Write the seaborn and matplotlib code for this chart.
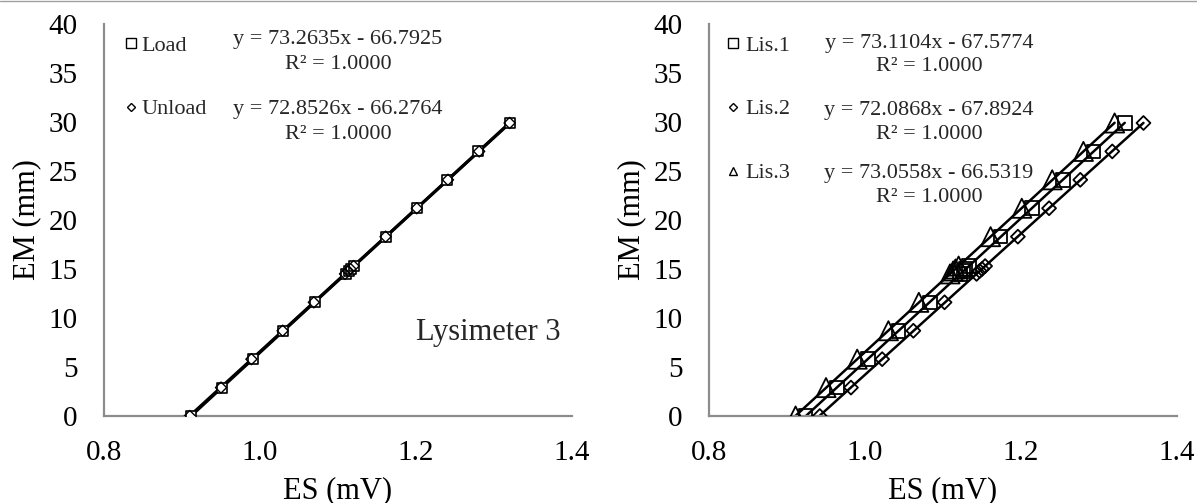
import numpy as np
import pandas as pd
import matplotlib
matplotlib.use("Agg")
import matplotlib.pyplot as plt
from matplotlib.lines import Line2D
import seaborn as sns

# ---------------- data ----------------
em_up = [0.0, 2.9, 5.8, 8.7, 11.6, 14.5, 14.8, 15.0, 15.3, 18.3, 21.2, 24.1, 27.0, 29.9]
em_down = [29.9, 27.0, 24.1, 21.2, 18.3, 15.3, 15.0, 14.8, 14.5, 11.6, 8.7, 5.8, 2.9, 0.0]

load_es = [0.911, 0.951, 0.991, 1.030, 1.070, 1.110, 1.114, 1.117, 1.120, 1.161, 1.201, 1.240, 1.280, 1.320]
unload_es = [1.320, 1.281, 1.241, 1.201, 1.161, 1.120, 1.116, 1.113, 1.109, 1.069, 1.029, 0.989, 0.950, 0.910]

lis1_es = [0.924, 0.964, 1.004, 1.043, 1.083, 1.122, 1.126, 1.129, 1.133, 1.174, 1.214, 1.254, 1.293, 1.333]
lis2_es = [0.942, 0.982, 1.022, 1.062, 1.102, 1.143, 1.147, 1.150, 1.154, 1.196, 1.236, 1.276, 1.317, 1.357]
lis3_es = [0.911, 0.950, 0.990, 1.030, 1.069, 1.109, 1.113, 1.116, 1.120, 1.161, 1.201, 1.240, 1.280, 1.320]

left_labels = ["Load", "Unload"]
left_eqs = ["y = 73.2635x - 66.7925\nR\u00b2 = 1.0000", "y = 72.8526x - 66.2764\nR\u00b2 = 1.0000"]
right_labels = ["Lis.1", "Lis.2", "Lis.3"]
right_eqs = ["y = 73.1104x - 67.5774\nR\u00b2 = 1.0000",
             "y = 72.0868x - 67.8924\nR\u00b2 = 1.0000",
             "y = 73.0558x - 66.5319\nR\u00b2 = 1.0000"]
x_ticks = [0.8, 1.0, 1.2, 1.4]
y_ticks = [0, 5, 10, 15, 20, 25, 30, 35, 40]
panel_note = "Lysimeter 3"

# ---------------- style ----------------
sns.set_theme(style="white")
plt.rcParams["font.family"] = ["Liberation Serif", "DejaVu Serif"]

SPINE = "#8c8c8c"
W, H = 1197, 503
fig = plt.figure(figsize=(W / 100, H / 100), dpi=100)
ax1 = fig.add_axes([104 / W, (H - 416) / H, 468 / W, 392 / H])
ax2 = fig.add_axes([709 / W, (H - 416) / H, 468 / W, 392 / H])

left_df = pd.DataFrame({
    "ES": load_es + unload_es,
    "EM": em_up + em_down,
    "series": [left_labels[0]] * len(load_es) + [left_labels[1]] * len(unload_es),
})
right_df = pd.DataFrame({
    "ES": lis1_es + lis2_es + lis3_es,
    "EM": em_up * 3,
    "series": [right_labels[0]] * 14 + [right_labels[1]] * 14 + [right_labels[2]] * 14,
})

# left panel
for lab in left_labels:
    sub = left_df[left_df["series"] == lab]
    sns.regplot(data=sub, x="ES", y="EM", ax=ax1, scatter=False, ci=None,
                truncate=True, line_kws=dict(color="black", lw=2.2))
sns.scatterplot(data=left_df[left_df.series == "Load"], x="ES", y="EM", ax=ax1,
                marker="s", s=60, facecolor="white", edgecolor="black", linewidth=1.2,
                zorder=3, legend=False)
sns.scatterplot(data=left_df[left_df.series == "Unload"], x="ES", y="EM", ax=ax1,
                marker="D", s=32, facecolor="none", edgecolor="black", linewidth=1.0,
                zorder=4, legend=False)

# right panel
mk = {"Lis.1": ("s", 95), "Lis.2": ("D", 50), "Lis.3": ("^", 190)}
for lab in right_labels:
    sub = right_df[right_df["series"] == lab]
    sns.regplot(data=sub, x="ES", y="EM", ax=ax2, scatter=False, ci=None,
                truncate=True, line_kws=dict(color="black", lw=1.8))
for lab in right_labels:
    sub = right_df[right_df["series"] == lab]
    m, s = mk[lab]
    sns.scatterplot(data=sub, x="ES", y="EM", ax=ax2, marker=m, s=s,
                    facecolor="none", edgecolor="black", linewidth=1.3,
                    zorder=3, legend=False)

for ax in (ax1, ax2):
    ax.set_xlim(0.8, 1.4)
    ax.set_ylim(0, 40)
    ax.set_xticks(x_ticks)
    ax.set_xticklabels([f"{v:.1f}" for v in x_ticks])
    ax.set_yticks(y_ticks)
    ax.set_yticklabels([str(v) for v in y_ticks])
    for sp in ("top", "right"):
        ax.spines[sp].set_visible(False)
    for sp in ("left", "bottom"):
        ax.spines[sp].set_color(SPINE)
        ax.spines[sp].set_linewidth(1.6)
    ax.tick_params(axis="both", which="major", direction="out", length=6,
                   width=1.6, color=SPINE, labelsize=21, labelcolor="black")
    ax.tick_params(axis="y", pad=13)
    ax.tick_params(axis="x", pad=11)
    ax.set_xlabel("ES (mV)", fontsize=22, color="black")
    ax.set_ylabel("EM (mm)", fontsize=22, color="black")
    ax.patch.set_alpha(0)
    ax.xaxis.set_label_coords(0.5, -0.153)
    ax.yaxis.set_label_coords(-0.135, 0.5)

# legends
def make_handles(markers):
    return [Line2D([], [], ls="", marker=m, ms=ms, mfc="white", mec="black", mew=1.0)
            for m, ms in markers]

ax1.legend(make_handles([("s", 6.5), ("D", 4.5)]), left_labels,
           loc="upper left", bbox_to_anchor=(0.045, 0.972), frameon=False,
           fontsize=16, handlelength=0.5, handletextpad=0.25,
           labelspacing=1.95, borderpad=0, borderaxespad=0)
ax2.legend(make_handles([("s", 6.5), ("D", 4.5), ("^", 6.0)]), right_labels,
           loc="upper left", bbox_to_anchor=(0.04, 0.972), frameon=False,
           fontsize=16, handlelength=0.5, handletextpad=0.3,
           labelspacing=1.95, borderpad=0, borderaxespad=0)

# equations
for eq, yy in zip(left_eqs, [0.929, 0.750]):
    ax1.text(0.50, yy, eq, transform=ax1.transAxes, ha="center", va="center",
             multialignment="center", fontsize=16, linespacing=1.45)
for eq, yy in zip(right_eqs, [0.921, 0.749, 0.588]):
    ax2.text(0.47, yy, eq, transform=ax2.transAxes, ha="center", va="center",
             multialignment="center", fontsize=16, linespacing=1.35)

ax1.text(0.8215, 0.212, panel_note, transform=ax1.transAxes, ha="center", va="center",
         fontsize=22)

fig.add_artist(Line2D([0, 1], [0.999, 0.999], transform=fig.transFigure,
                      color="#a0a0a0", lw=1.0))

fig.savefig("out.png", dpi=100, facecolor="white")
